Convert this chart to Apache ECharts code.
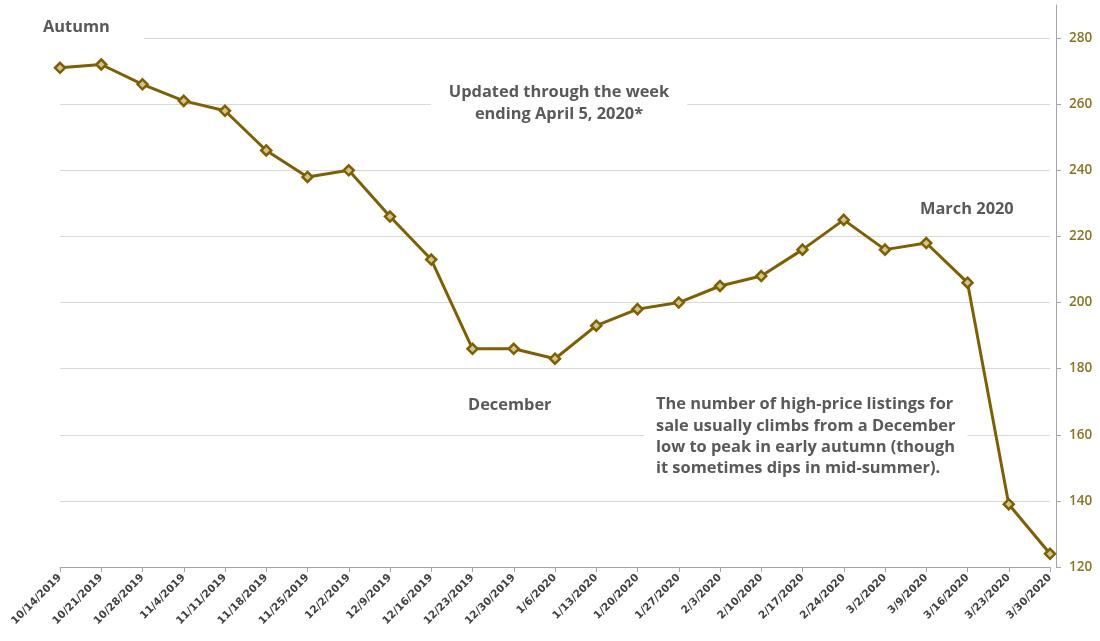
<!DOCTYPE html>
<html><head><meta charset="utf-8">
<script src="https://cdn.jsdelivr.net/npm/echarts@6/dist/echarts.min.js"></script>
<style>html,body{margin:0;padding:0;background:#fff}#c{width:1100px;height:641px}</style>
</head><body><div id="c"></div>
<script>
const categories = ['10/14/2019','10/21/2019','10/28/2019','11/4/2019','11/11/2019','11/18/2019','11/25/2019','12/2/2019','12/9/2019','12/16/2019','12/23/2019','12/30/2019','1/6/2020','1/13/2020','1/20/2020','1/27/2020','2/3/2020','2/10/2020','2/17/2020','2/24/2020','3/2/2020','3/9/2020','3/16/2020','3/23/2020','3/30/2020'];
const listings = [271,272,266,261,258,246,238,240,226,213,186,186,183,193,198,200,205,208,216,225,216,218,206,139,124];
const yTicks = {min:120, max:290, step:20};

const FONT = '"Open Sans", Lato, sans-serif';
const WIDE = '"DejaVu Sans", Verdana, sans-serif';
const TFONT = 'bold 16.4px ' + FONT;
const chart = echarts.init(document.getElementById('c'));
const annot = (x, y, text, align, padding) => ({
  type:'text', x:x, y:y, z:100,
  style:{text:text, fill:'#595959', font:TFONT, align:align||'left', verticalAlign:'top',
         backgroundColor:'#fff', padding:padding||[2,4], lineHeight:21.3}
});

chart.setOption({
  animation:false,
  grid:{left:60, right:50, top:5, bottom:74, containLabel:false},
  xAxis:{type:'category', data:categories, boundaryGap:false,
    axisLine:{lineStyle:{color:'#a6a6a6'}},
    axisTick:{show:true, alignWithLabel:true, length:5, lineStyle:{color:'#a6a6a6'}},
    axisLabel:{rotate:45, color:'#404040', fontFamily:WIDE, fontWeight:'bold', fontSize:10.5, margin:9, interval:0},
    splitLine:{show:false}},
  yAxis:{type:'value', position:'right', offset:6, min:yTicks.min, max:yTicks.max, interval:yTicks.step,
    axisLine:{show:true, lineStyle:{color:'#a6a6a6'}},
    axisTick:{show:true, length:5, lineStyle:{color:'#a6a6a6'}},
    axisLabel:{color:'#8a7420', fontFamily:FONT, fontWeight:600, fontSize:13.5, margin:13, showMaxLabel:false},
    splitLine:{show:true, lineStyle:{color:['#d9d9d9','#d9d9d9','#d9d9d9','#d9d9d9','#d9d9d9','#d9d9d9','#d9d9d9','#d9d9d9','#d9d9d9','rgba(0,0,0,0)']}}},
  series:[{type:'line', data:listings, symbol:'diamond', symbolSize:10,
    lineStyle:{color:'#7f6000', width:3},
    itemStyle:{color:'#d2c68a', borderColor:'#7f6000', borderWidth:2.5}}],
  graphic:[
    annot(39, 15, 'Autumn', 'left', [2,34,2,4]),
    annot(559, 81, 'Updated through the week\nending April 5, 2020*', 'center', [1,18]),
    annot(916, 197, 'March 2020'),
    annot(464, 393, 'December'),
    annot(644, 392, 'The number of high-price listings for\nsale usually climbs from a December\nlow to peak in early autumn (though\nit sometimes dips in mid-summer).', 'left', [2,12])
  ]
});
</script></body></html>
